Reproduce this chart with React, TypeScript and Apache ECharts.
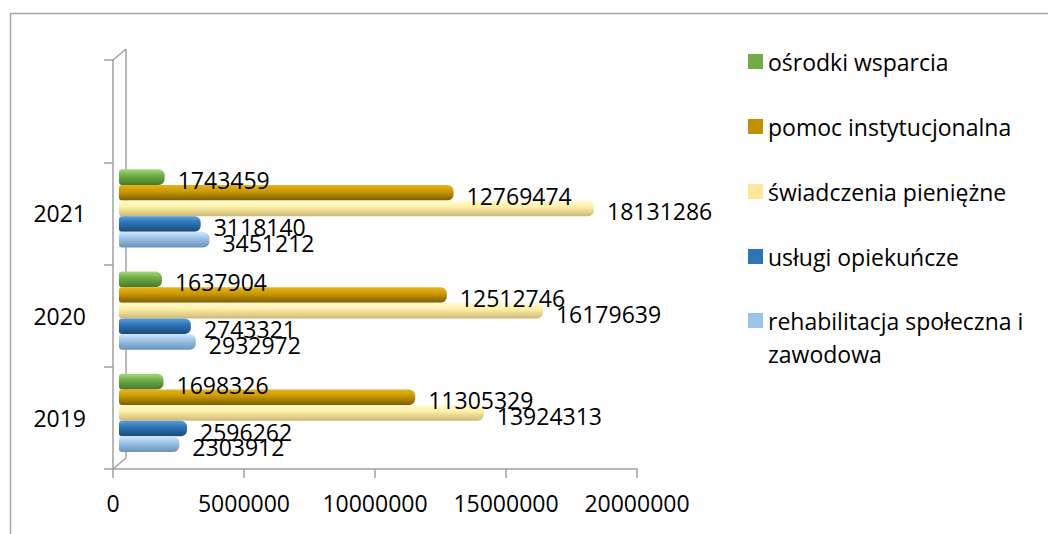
import React, { useEffect, useRef } from 'react';
import * as echarts from 'echarts';

// ---- data ----
const years = ['2019', '2020', '2021', ''];
const xMin = 0;
const xMax = 20000000;
const xStep = 5000000;

const seriesNames = [
  'ośrodki wsparcia',
  'pomoc instytucjonalna',
  'świadczenia pieniężne',
  'usługi opiekuńcze',
  'rehabilitacja społeczna i zawodowa',
];
const osrodkiWsparcia = [1698326, 1637904, 1743459];
const pomocInstytucjonalna = [11305329, 12512746, 12769474];
const swiadczeniaPieniezne = [13924313, 16179639, 18131286];
const uslugiOpiekuncze = [2596262, 2743321, 3118140];
const rehabilitacja = [2303912, 2932972, 3451212];

const seriesValues = [
  osrodkiWsparcia,
  pomocInstytucjonalna,
  swiadczeniaPieniezne,
  uslugiOpiekuncze,
  rehabilitacja,
];

// legend (solid) colours and bar gradient stops [top, mid, bottom]
const legendColors = ['#70ad47', '#bf9000', '#ffe699', '#2e75b6', '#9dc3e6'];
const barGradients = [
  ['#a5da7c', '#70ad47', '#46792a'],
  ['#e8b41c', '#cc9a00', '#7d5d00'],
  ['#fffbd6', '#fff0a6', '#cdb877'],
  ['#5c9fdc', '#2e75b6', '#1b4a78'],
  ['#d3e8fb', '#9dc3e6', '#6a93ba'],
];

const FONT = '"Open Sans", "Liberation Sans", sans-serif';
const AXIS_COLOR = '#a0a0a0';

export default function App() {
  const ref = useRef<HTMLDivElement>(null);

  useEffect(() => {
    if (!ref.current) return;
    const chart = echarts.init(ref.current, undefined, { renderer: 'svg' });

    const series = seriesNames.map((name, i) => ({
      name,
      type: 'bar',
      xAxisIndex: 1,
      yAxisIndex: 1,
      barGap: '0%',
      barCategoryGap: '23.5%',
      data: seriesValues[i],
      itemStyle: {
        color: new echarts.graphic.LinearGradient(0, 0, 0, 1, [
          { offset: 0, color: barGradients[i][0] },
          { offset: 0.4, color: barGradients[i][1] },
          { offset: 1, color: barGradients[i][2] },
        ]),
        borderRadius: [3, 6, 6, 3],
      },
      label: {
        show: true,
        position: 'right',
        distance: 13,
        offset: [0, 3],
        color: '#000',
        fontSize: 23,
        fontFamily: FONT,
      },
    }));

    const option = {
      animation: false,
      textStyle: { fontFamily: FONT },
      grid: [
        { left: 113, right: 411, top: 60, bottom: 65 },
        { left: 119, right: 405, top: 55, bottom: 70 },
      ],
      xAxis: [
        {
          gridIndex: 0,
          type: 'value',
          min: xMin,
          max: xMax,
          interval: xStep,
          axisLine: { show: true, lineStyle: { color: AXIS_COLOR, width: 1.5 } },
          axisTick: { show: true, length: 9, lineStyle: { color: AXIS_COLOR, width: 1.5 } },
          splitLine: { show: false },
          axisLabel: {
            color: '#000',
            fontSize: 23,
            fontFamily: FONT,
            margin: 22,
            formatter: (v: number) => String(v),
          },
        },
        {
          gridIndex: 1,
          type: 'value',
          min: xMin,
          max: xMax,
          interval: xStep,
          show: false,
        },
      ],
      yAxis: [
        {
          gridIndex: 0,
          type: 'category',
          data: years,
          boundaryGap: true,
          axisLine: { show: true, lineStyle: { color: AXIS_COLOR, width: 1.5 } },
          axisTick: { show: true, length: 9, lineStyle: { color: AXIS_COLOR, width: 1.5 } },
          axisLabel: { color: '#000', fontSize: 23, fontFamily: FONT, margin: 27 },
          splitLine: { show: false },
        },
        {
          gridIndex: 1,
          type: 'category',
          data: years,
          show: false,
        },
      ],
      legend: [
        {
          orient: 'vertical',
          left: 748,
          top: 50,
          padding: 0,
          itemWidth: 15,
          itemHeight: 15,
          itemGap: 42,
          icon: 'rect',
          textStyle: { color: '#000', fontSize: 23, fontFamily: FONT },
          data: seriesNames.slice(0, 4).map((n, i) => ({
            name: n,
            itemStyle: { color: legendColors[i] },
          })),
        },
        {
          orient: 'vertical',
          left: 748,
          top: 304,
          padding: 0,
          itemWidth: 15,
          itemHeight: 48,
          textStyle: { color: '#000', fontSize: 23, fontFamily: FONT, lineHeight: 33 },
          formatter: (name: string) => name.replace(' i zawodowa', ' i\nzawodowa'),
          data: [
            {
              name: seriesNames[4],
              icon: 'path://M0,0H15V15H0Z M0,47.9H0.1V48H0Z',
              itemStyle: { color: legendColors[4] },
            },
          ],
        },
      ],
      graphic: [
        // outer frame (left and top edges visible)
        { type: 'line', z: 0, shape: { x1: 10.5, y1: 13, x2: 10.5, y2: 560 }, style: { stroke: '#a6a6a6', lineWidth: 1.5 } },
        { type: 'line', z: 0, shape: { x1: 10, y1: 13.5, x2: 1080, y2: 13.5 }, style: { stroke: '#a6a6a6', lineWidth: 1.5 } },
        // 3D back wall of the category axis
        { type: 'line', z: 0, shape: { x1: 113, y1: 60, x2: 126, y2: 49 }, style: { stroke: AXIS_COLOR, lineWidth: 1.5 } },
        { type: 'line', z: 0, shape: { x1: 126, y1: 49, x2: 126, y2: 458 }, style: { stroke: AXIS_COLOR, lineWidth: 1.5 } },
        { type: 'line', z: 0, shape: { x1: 113, y1: 469, x2: 126, y2: 458 }, style: { stroke: AXIS_COLOR, lineWidth: 1.5 } },
      ],
      series,
    };

    chart.setOption(option as any);
    return () => chart.dispose();
  }, []);

  return (
    <div
      ref={ref}
      style={{ position: 'fixed', left: 0, top: 0, width: 1048, height: 534, background: '#fff' }}
    />
  );
}
